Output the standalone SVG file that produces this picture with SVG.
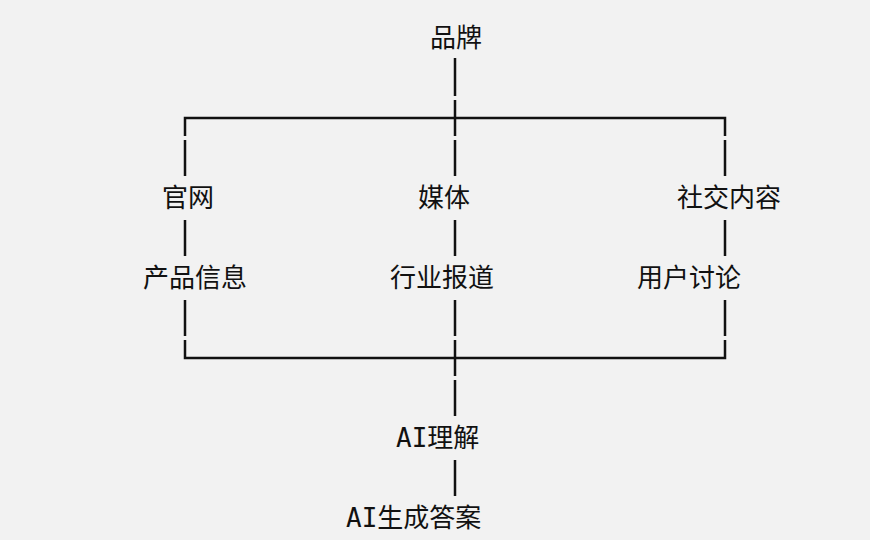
<svg xmlns="http://www.w3.org/2000/svg" width="870" height="540" viewBox="0 0 870 540">
<style>
.t{font-family:"DejaVu Sans Mono","Noto Sans CJK SC",monospace;font-size:26px;fill:#111}
.l{stroke:#111;stroke-width:2.5;fill:none}
</style>
<rect width="870" height="540" fill="#f2f2f2"/>
<g id="connectors">
<path class="l" d="M455 58V96M455 100V136M455 140V176M455 220V256M455 300V336M455 340V376M455 380V416M455 460V496"/>
<path class="l" d="M185 136V118H725V136M185 140V176M185 220V256M185 300V336M185 340V358H725V340M725 140V176M725 220V256M725 300V336"/>
</g>
<g id="brand"><text class="t" x="430" y="47">品牌</text></g>
<g id="site"><text class="t" x="162" y="207">官网</text></g>
<g id="media"><text class="t" x="418" y="207">媒体</text></g>
<g id="social"><text class="t" x="677" y="207">社交内容</text></g>
<g id="product"><text class="t" x="143" y="287">产品信息</text></g>
<g id="industry"><text class="t" x="390" y="287">行业报道</text></g>
<g id="users"><text class="t" x="637" y="287">用户讨论</text></g>
<g id="ai1"><text class="t" x="396" y="447">AI理解</text></g>
<g id="ai2"><text class="t" x="346" y="527">AI生成答案</text></g>
</svg>
